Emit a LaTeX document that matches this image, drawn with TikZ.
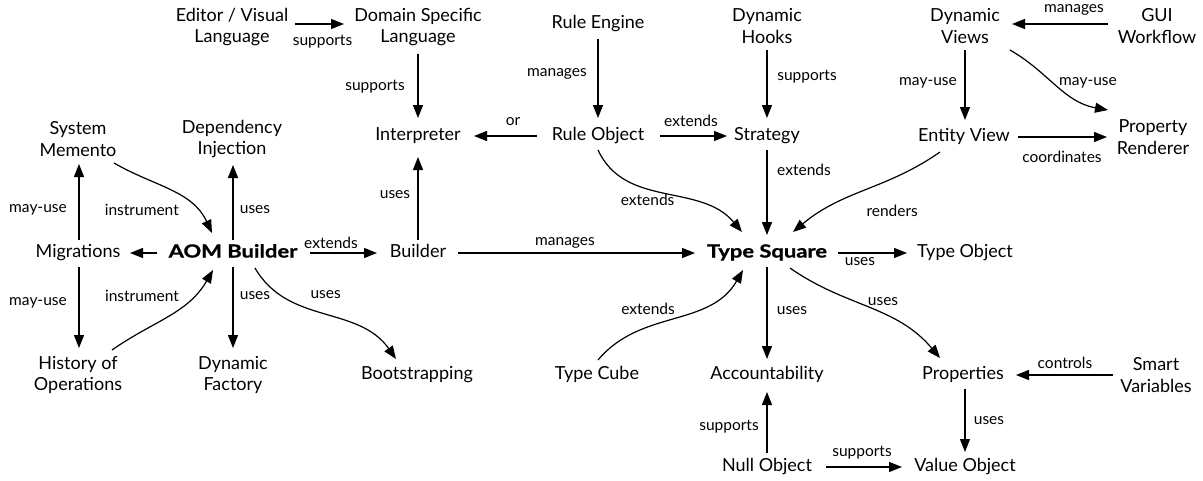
\documentclass[tikz,border=0pt]{standalone}
\usepackage{fontspec}
\setmainfont{Lato}
\newfontfamily\keyfont[FakeStretch=1.22, BoldFeatures={FakeBold=1}]{Lato}
\usetikzlibrary{arrows.meta}
\begin{document}
\begin{tikzpicture}[x=1pt,y=1pt,
  concept/.style={font=\fontsize{18}{21.5}\selectfont, align=center, inner sep=0pt},
  single/.style={concept, text height=0.95em, text depth=0.05em},
  key/.style={single, font=\fontsize{18}{21.5}\selectfont\keyfont\bfseries},
  lab/.style={font=\fontsize{15.5}{18}\selectfont, inner sep=0pt},
  arr/.style={line width=1.2pt, -{Triangle[length=13pt,width=10pt]}}]
\useasboundingbox (0,0) rectangle (1203,-480);

% ---- concepts ----
\node[concept] (ed)    at (232,-27)  {Editor / Visual\\Language};
\node[concept] (dsl)   at (418,-27)  {Domain Specific\\Language};
\node[single]  (re)    at (598,-24)  {Rule Engine};
\node[concept] (dh)    at (767,-26)  {Dynamic\\Hooks};
\node[concept] (dv)    at (965,-26)  {Dynamic\\Views};
\node[concept] (gui)   at (1157,-26) {GUI\\Workflow};
\node[concept] (sm)    at (78,-139)  {System\\Memento};
\node[concept] (di)    at (232,-139) {Dependency\\Injection};
\node[single]  (int)   at (418,-136) {Interpreter};
\node[single]  (ro)    at (598,-136) {Rule Object};
\node[single]  (st)    at (767,-136) {Strategy};
\node[single]  (ev)    at (964,-137) {Entity View};
\node[concept] (pr)    at (1153,-137) {Property\\Renderer};
\node[single]  (mig)   at (78,-253)  {Migrations};
\node[key]     (aom)   at (233,-253) {AOM Builder};
\node[single]  (bld)   at (418,-253) {Builder};
\node[key]     (ts)    at (767,-253) {Type Square};
\node[single]  (to)    at (965,-253) {Type Object};
\node[concept] (hist)  at (78,-375)  {History of\\Operations};
\node[concept] (df)    at (233,-375) {Dynamic\\Factory};
\node[single]  (boot)  at (417,-375) {Bootstrapping};
\node[single]  (tc)    at (597,-375) {Type Cube};
\node[single]  (acc)   at (767,-375) {Accountability};
\node[single]  (props) at (963,-375) {Properties};
\node[concept] (sv)    at (1156,-375) {Smart\\Variables};
\node[single]  (nul)   at (767,-467) {Null Object};
\node[single]  (vo)    at (965,-467) {Value Object};

% ---- straight relations ----
\draw[arr] ([shift={(63,3)}]ed.center) -- ([shift={(-74,3)}]dsl.center)
  node[lab, midway, xshift=3, yshift=-18] {supports};
\draw[arr] ([shift={(0,-27)}]dsl.center) -- ([shift={(0,18)}]int.center)
  node[lab, midway, xshift=-43, yshift=-1] {supports};
\draw[arr] ([shift={(0,13)}]bld.center) -- ([shift={(0,-21)}]int.center)
  node[lab, midway, xshift=-23, yshift=3.5] {uses};
\draw[arr] ([shift={(0,-15)}]re.center) -- ([shift={(0,18)}]ro.center)
  node[lab, midway, xshift=-41, yshift=4.5] {manages};
\draw[arr] ([shift={(-61,0)}]ro.center) -- ([shift={(56,0)}]int.center)
  node[lab, midway, xshift=7.5, yshift=14] {or};
\draw[arr] ([shift={(62,0)}]ro.center) -- ([shift={(-40,0)}]st.center)
  node[lab, midway, xshift=-2.5, yshift=15] {extends};
\draw[arr] ([shift={(0,-24)}]dh.center) -- ([shift={(0,18)}]st.center)
  node[lab, midway, xshift=40, yshift=7] {supports};
\draw[arr] ([shift={(0,-14)}]st.center) -- ([shift={(0,18)}]ts.center)
  node[lab, midway, xshift=37, yshift=22.5] {extends};
\draw[arr] ([shift={(-49,2)}]gui.center) -- ([shift={(47,2)}]dv.center)
  node[lab, midway, xshift=14, yshift=14] {manages};
\draw[arr] ([shift={(0,-24)}]dv.center) -- ([shift={(1,17)}]ev.center)
  node[lab, midway, xshift=-37, yshift=2] {may-use};
\draw[arr] ([shift={(54,0)}]ev.center) -- ([shift={(-46,0)}]pr.center)
  node[lab, midway, xshift=-0.5, yshift=-20] {coordinates};
\draw[arr] ([shift={(1,13)}]mig.center) -- ([shift={(1,-25)}]sm.center)
  node[lab, midway, xshift=-41, yshift=-8] {may-use};
\draw[arr] ([shift={(0,13)}]aom.center) -- ([shift={(1,-26)}]di.center)
  node[lab, midway, xshift=22, yshift=-7.5] {uses};
\draw[arr] ([shift={(-76,0)}]aom.center) -- ([shift={(52,0)}]mig.center);
\draw[arr] ([shift={(77,0)}]aom.center) -- ([shift={(-41,0)}]bld.center)
  node[lab, midway, xshift=-12.5, yshift=10] {extends};
\draw[arr] ([shift={(40,0)}]bld.center) -- ([shift={(-72,0)}]ts.center)
  node[lab, midway, xshift=-11.5, yshift=10] {manages};
\draw[arr] ([shift={(1,-14)}]mig.center) -- ([shift={(1,27)}]hist.center)
  node[lab, midway, xshift=-41, yshift=4.5] {may-use};
\draw[arr] ([shift={(0,-14)}]aom.center) -- ([shift={(0,27)}]df.center)
  node[lab, midway, xshift=22, yshift=11.5] {uses};
\draw[arr] ([shift={(71,0)}]ts.center) -- ([shift={(-58,0)}]to.center)
  node[lab, midway, xshift=-12.5, yshift=-9] {uses};
\draw[arr] ([shift={(0,-14)}]ts.center) -- ([shift={(0,16)}]acc.center)
  node[lab, midway, xshift=25, yshift=2] {uses};
\draw[arr] ([shift={(0,14)}]nul.center) -- ([shift={(0,-17)}]acc.center)
  node[lab, midway, xshift=-38, yshift=-4.5] {supports};
\draw[arr] ([shift={(59,0)}]nul.center) -- ([shift={(-63,0)}]vo.center)
  node[lab, midway, xshift=-2, yshift=14] {supports};
\draw[arr] ([shift={(2,-14)}]props.center) -- ([shift={(0,15)}]vo.center)
  node[lab, midway, xshift=24, yshift=-0.5] {uses};
\draw[arr] ([shift={(-43,0)}]sv.center) -- ([shift={(53,0)}]props.center)
  node[lab, midway, xshift=0.5, yshift=12] {controls};

% ---- curved relations ----
\draw[arr] ([shift={(36,-24)}]sm.center) to[out=-30, in=115]
  node[lab, midway, xshift=-29, yshift=-19] {instrument} ([shift={(-21,20)}]aom.center);
\draw[arr] ([shift={(34,25)}]hist.center) to[out=35, in=-120]
  node[lab, midway, xshift=-26.5, yshift=19.5] {instrument} ([shift={(-20,-17)}]aom.center);
\draw[arr] ([shift={(22,-15)}]aom.center) to[out=-60, in=125]
  node[lab, midway, xshift=2, yshift=20] {uses} ([shift={(-21,16)}]boot.center);
\draw[arr] ([shift={(0,-14)}]ro.center) to[out=-65, in=130]
  node[lab, midway, xshift=-17, yshift=-5] {extends} ([shift={(-25,21)}]ts.center);
\draw[arr] ([shift={(-24,-15)}]ev.center) to[out=-145, in=40]
  node[lab, midway, xshift=27, yshift=-21] {renders} ([shift={(26,21)}]ts.center);
\draw[arr] ([shift={(45,-24)}]dv.center) to[out=-30, in=170]
  node[lab, midway, xshift=31, yshift=2.5] {may-use} ([shift={(-45,27)}]pr.center);
\draw[arr] ([shift={(1,15)}]tc.center) to[out=50, in=-120]
  node[lab, midway, xshift=-26, yshift=8.5] {extends} ([shift={(-24,-17)}]ts.center);
\draw[arr] ([shift={(23,-15)}]ts.center) to[out=-35, in=130]
  node[lab, midway, xshift=13.5, yshift=6] {uses} ([shift={(-23,17)}]props.center);
\end{tikzpicture}
\end{document}
